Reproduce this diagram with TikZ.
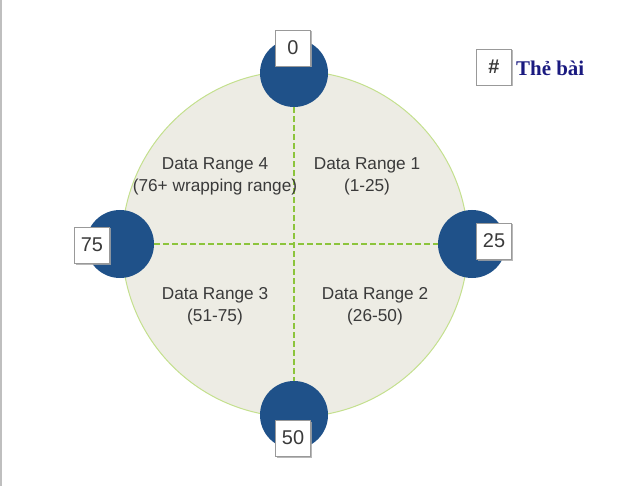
\documentclass[tikz,border=0pt]{standalone}
\usepackage{fontspec}
\setmainfont{Liberation Sans}
\newfontfamily\serifbold{Liberation Serif}
\usetikzlibrary{shadows}
\definecolor{ringfill}{HTML}{EDECE4}
\definecolor{ringline}{HTML}{C4E08E}
\definecolor{dotblue}{HTML}{1F5189}
\definecolor{dashgreen}{HTML}{8CC43C}
\definecolor{txtgray}{HTML}{3A3A3A}
\definecolor{navy}{HTML}{1A1A80}
\begin{document}
\begin{tikzpicture}[x=1bp,y=-1bp,
  dot/.style={circle,fill=dotblue,minimum size=68bp,inner sep=0pt},
  tagbox/.style={draw=gray!80,line width=0.8bp,fill=white,minimum width=35bp,minimum height=36bp,inner sep=0pt,
     font=\fontsize{20}{22}\selectfont,text=txtgray,
     drop shadow={shadow xshift=1.5bp,shadow yshift=-1.5bp,fill=gray!70,opacity=0.8}},
  divline/.style={dashgreen,line width=2.5bp,dash pattern=on 6bp off 3bp},
  rangetxt/.style={align=center,font=\fontsize{17.3}{22}\selectfont,text=txtgray}]
\useasboundingbox (0,0) rectangle (621,486);
\draw[gray!50,line width=1.5bp] (0.75,0) -- (0.75,486);
\node[circle,draw=ringline,line width=1bp,fill=ringfill,minimum size=346bp,inner sep=0pt] (ring) at (295,244) {};
\node[dot] (d0) at (294,73) {};
\node[dot] (d25) at (472,244) {};
\node[dot] (d50) at (294,415) {};
\node[dot] (d75) at (120,244) {};
\draw[divline] (d0.south) -- (d50.north);
\draw[divline] (d75.east) -- (d25.west);
\node[tagbox] (t0) at (293,48) {0};
\node[tagbox] (t25) at (494,241) {25};
\node[tagbox] (t50) at (293,438) {50};
\node[tagbox] (t75) at (92,245) {75};
\node[tagbox,font=\bfseries\fontsize{20}{22}\selectfont] (thash) at (494,67) {\#};
\node[anchor=west,inner sep=0pt,text=navy,font=\serifbold\bfseries\fontsize{21}{23}\selectfont] (legend) at (516,68) {Thẻ bài};
\node[rangetxt] (r4) at (215,176) {Data Range 4\\(76+ wrapping range)};
\node[rangetxt] (r1) at (367,176) {Data Range 1\\(1-25)};
\node[rangetxt] (r3) at (215,306) {Data Range 3\\(51-75)};
\node[rangetxt] (r2) at (375,306) {Data Range 2\\(26-50)};
\end{tikzpicture}
\end{document}
